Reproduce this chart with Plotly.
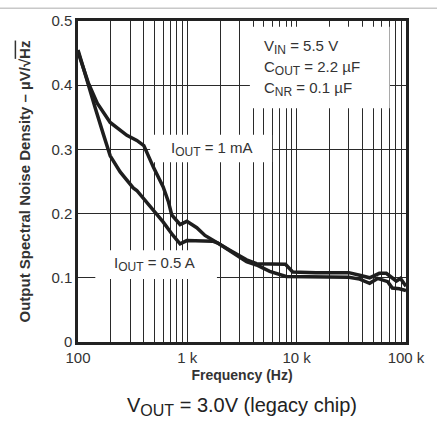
import plotly.graph_objects as go

freq_1mA = [100, 124, 150, 197, 280, 345, 400, 430, 490, 600, 670, 720, 858, 990, 1220, 1450, 1850,
            2450, 3480, 4300, 7900, 9200, 15000, 30000, 37700, 46500, 57000, 66000, 81500, 89000, 100000]
noise_1mA = [0.452, 0.404, 0.372, 0.342, 0.322, 0.314, 0.306, 0.293, 0.272, 0.242, 0.219, 0.198, 0.183,
             0.188, 0.178, 0.166, 0.156, 0.143, 0.128, 0.122, 0.121, 0.109, 0.108, 0.108, 0.104, 0.100,
             0.107, 0.107, 0.095, 0.099, 0.087]

freq_05A = [100, 124, 144, 171, 197, 243, 320, 345, 457, 600, 740, 858, 990, 1700, 1900, 2450, 3480,
            4300, 5670, 8000, 15000, 30000, 37700, 46500, 55000, 68000, 75000, 87000, 100000]
noise_05A = [0.455, 0.404, 0.364, 0.323, 0.290, 0.265, 0.240, 0.236, 0.211, 0.187, 0.166, 0.153, 0.158,
             0.157, 0.154, 0.142, 0.125, 0.120, 0.110, 0.102, 0.101, 0.101, 0.098, 0.0915, 0.099, 0.094,
             0.084, 0.083, 0.080]

x_tickvals = [m * 10 ** e for e in (2, 3, 4) for m in range(1, 10)] + [100000]
x_ticktext = ["100" if v == 100 else "1 k" if v == 1000 else "10 k" if v == 10000 else "100 k" if v == 100000 else "" for v in x_tickvals]
y_tickvals = [0, 0.1, 0.2, 0.3, 0.4, 0.5]
y_ticktext = ["0", "0.1", "0.2", "0.3", "0.4", "0.5"]

FONT = "Liberation Sans, Arial, sans-serif"
LINE = "#1e1e1e"
GRID = "#2a2a2a"
TXT = "#333333"


def sub(s, size=12):
    return "<sub><span style='font-size:%dpx'>%s</span></sub>" % (size, s)


fig = go.Figure()
fig.add_trace(go.Scatter(x=freq_1mA, y=noise_1mA, mode="lines",
                         line=dict(color=LINE, width=3.5), showlegend=False))
fig.add_trace(go.Scatter(x=freq_05A, y=noise_05A, mode="lines",
                         line=dict(color=LINE, width=3.5), showlegend=False))

fig.update_layout(
    width=437, height=426,
    margin=dict(l=78, r=30, t=14, b=84),
    paper_bgcolor="white", plot_bgcolor="white",
    font=dict(family=FONT, size=15, color=TXT),
    xaxis=dict(type="log", range=[2, 5], tickvals=x_tickvals, ticktext=x_ticktext,
               showgrid=True, gridcolor=GRID, gridwidth=1, zeroline=False,
               showline=True, linecolor="#222222", linewidth=2.5, mirror=True,
               ticks="", tickfont=dict(size=15, color=TXT),
               title=dict(text="<b>Frequency (Hz)</b>", font=dict(size=14, color=TXT), standoff=6)),
    yaxis=dict(range=[0, 0.5], tickvals=y_tickvals, ticktext=y_ticktext,
               showgrid=True, gridcolor=GRID, gridwidth=1, zeroline=False,
               showline=True, linecolor="#222222", linewidth=2.5, mirror=True,
               ticks="", tickfont=dict(size=15, color=TXT),
               title=dict(text="<b>Output Spectral Noise Density – µV/√<span style='text-decoration:overline'>Hz</span></b>",
                          font=dict(size=15, color=TXT), standoff=18)),
)

# White boxes masking the grid behind the labels (between grid and curves)
box = dict(type="rect", fillcolor="white", line=dict(width=0), layer="between", xref="x", yref="y")
fig.add_shape(**box, x0=3733, x1=70800, y0=0.364, y1=0.491)
fig.add_shape(**box, x0=457, x1=5960, y0=0.280, y1=0.323)
fig.add_shape(**box, x0=144, x1=1866, y0=0.098, y1=0.143)

# Condition text (upper right)
cond = ["V" + sub("IN") + " = 5.5 V", "C" + sub("OUT") + " = 2.2 µF", "C" + sub("NR") + " = 0.1 µF"]
for i, t in enumerate(cond):
    fig.add_annotation(xref="paper", yref="y", x=0.562, y=0.459 - i * 0.0328, xanchor="left", yanchor="middle",
                       text=t, showarrow=False, font=dict(size=15, color=TXT))
# Curve labels
fig.add_annotation(xref="paper", yref="y", x=0.408, y=0.301, xanchor="center", yanchor="middle",
                   text="I" + sub("OUT") + " = 1 mA", showarrow=False, font=dict(size=15, color=TXT))
fig.add_annotation(xref="paper", yref="y", x=0.232, y=0.121, xanchor="center", yanchor="middle",
                   text="I" + sub("OUT") + " = 0.5 A", showarrow=False, font=dict(size=15, color=TXT))
# Bottom caption
fig.add_annotation(xref="paper", yref="paper", x=0.5, y=-0.2, xanchor="center", yanchor="middle",
                   text="V" + sub("OUT", 16) + " = 3.0V (legacy chip)", showarrow=False,
                   font=dict(size=20, color="#222222"))
# Top rule of the page
fig.add_shape(type="line", xref="paper", yref="paper", x0=-0.3, x1=1.2, y0=1.04, y1=1.04,
              line=dict(color="#c8c8c8", width=1.5))

fig.write_html("out.html")
